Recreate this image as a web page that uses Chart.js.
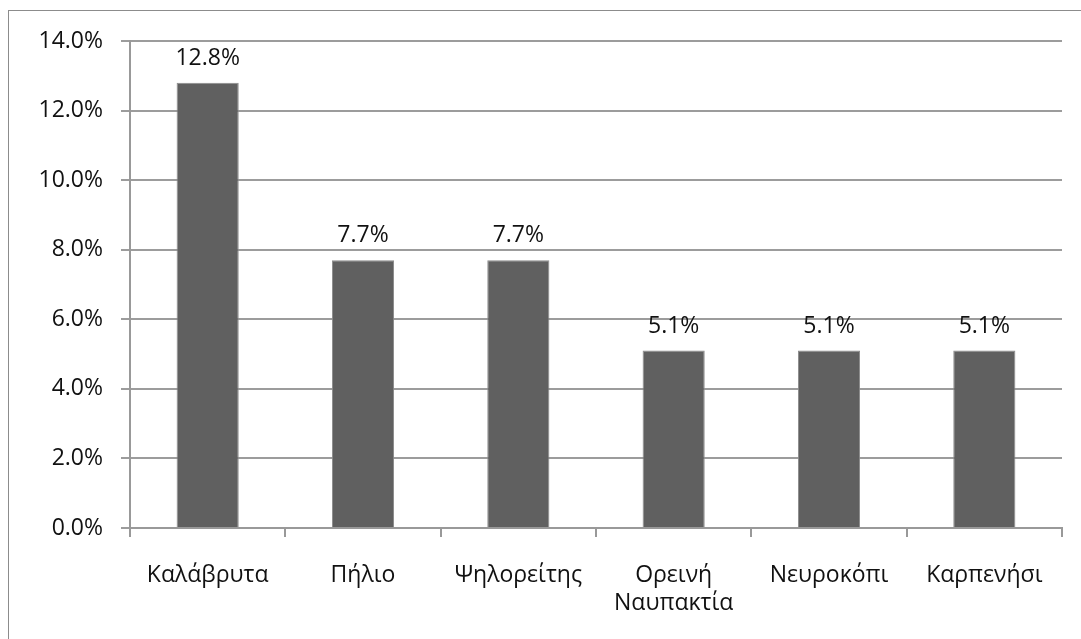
<!DOCTYPE html>
<html>
<head>
<meta charset="utf-8">
<script src="https://cdn.jsdelivr.net/npm/chart.js@4"></script>
<style>
  html, body { margin: 0; padding: 0; background: #fff; }
  #wrap { width: 1081px; height: 639px; position: relative; }
</style>
</head>
<body>
<div id="wrap"><canvas id="perioxes"></canvas></div>
<script>
const categories = ["Καλάβρυτα", "Πήλιο", "Ψηλορείτης", ["Ορεινή", "Ναυπακτία"], "Νευροκόπι", "Καρπενήσι"];
const values = [12.8, 7.7, 7.7, 5.1, 5.1, 5.1];
const yMin = 0;
const yMax = 14;
const yStep = 2;

const FONT = "'Open Sans', sans-serif";

// frame around the chart + value labels above the bars
const frameAndLabels = {
    id: "frameAndLabels",
    beforeDraw(chart) {
        const ctx = chart.ctx;
        ctx.save();
        ctx.strokeStyle = "#8c8c8c";
        ctx.lineWidth = 1;
        ctx.strokeRect(8.5, 10.5, 1200, 800);
        ctx.restore();
    },
    afterDatasetsDraw(chart) {
        const ctx = chart.ctx;
        const meta = chart.getDatasetMeta(0);
        ctx.save();
        ctx.font = "23px " + FONT;
        ctx.fillStyle = "#111";
        ctx.textAlign = "center";
        ctx.textBaseline = "alphabetic";
        meta.data.forEach((bar, i) => {
            ctx.fillText(values[i].toFixed(1) + "%", bar.x, bar.y - 18);
        });
        ctx.restore();
    }
};

new Chart(document.getElementById("perioxes"), {
    type: "bar",
    data: {
        labels: categories,
        datasets: [{
            data: values,
            backgroundColor: "#606060",
            borderColor: "#8a8a8a",
            borderWidth: 1,
            barPercentage: 0.8,
            categoryPercentage: 0.5
        }]
    },
    options: {
        responsive: true,
        maintainAspectRatio: false,
        animation: false,
        layout: {
            padding: { top: 41, right: 19, bottom: 0, left: 0 }
        },
        plugins: {
            legend: { display: false },
            tooltip: { enabled: false }
        },
        scales: {
            x: {
                grid: {
                    offset: true,
                    drawOnChartArea: false,
                    drawTicks: true,
                    tickLength: 9,
                    color: "#999",
                    lineWidth: 2
                },
                border: { color: "#999", width: 2 },
                ticks: {
                    color: "#111",
                    padding: 24,
                    maxRotation: 0,
                    autoSkip: false,
                    font: { family: FONT, size: 23, lineHeight: 1.22 }
                },
                afterFit(scale) { scale.height = 111; }
            },
            y: {
                min: yMin,
                max: yMax,
                grid: {
                    color: "#9c9c9c",
                    lineWidth: 2,
                    tickLength: 9
                },
                border: { color: "#999", width: 2 },
                ticks: {
                    stepSize: yStep,
                    color: "#111",
                    padding: 18,
                    font: { family: FONT, size: 23 },
                    callback: v => v.toFixed(1) + "%"
                },
                afterFit(scale) { scale.width = 130; }
            }
        }
    },
    plugins: [frameAndLabels]
});
</script>
</body>
</html>
